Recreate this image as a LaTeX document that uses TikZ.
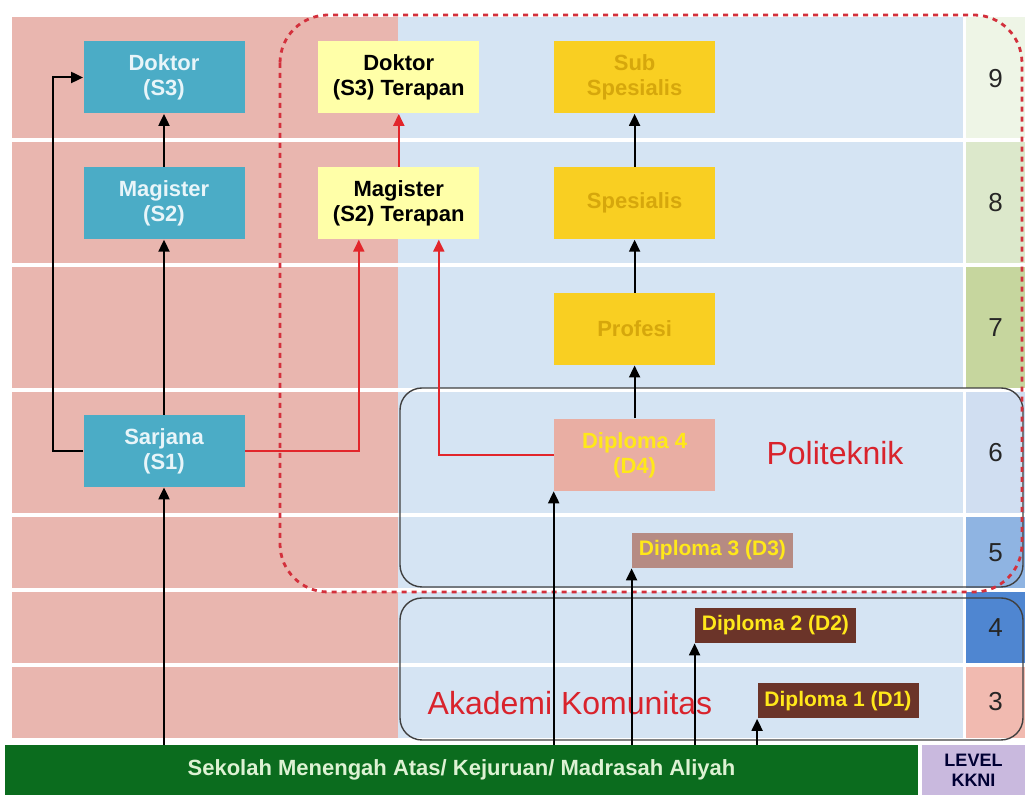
\documentclass[tikz,border=0pt]{standalone}
\usepackage{fontspec}
\setmainfont{Liberation Sans}
\usetikzlibrary{positioning,arrows.meta}
\definecolor{PinkBg}{HTML}{E9B6AF}
\definecolor{BlueBg}{HTML}{D5E4F3}
\definecolor{Teal}{HTML}{4BACC6}
\definecolor{TealText}{HTML}{E8F5F9}
\definecolor{PaleYellow}{HTML}{FFFFA8}
\definecolor{Gold}{HTML}{F9CF22}
\definecolor{GoldText}{HTML}{D6A70C}
\definecolor{DipYellow}{HTML}{FFE81A}
\definecolor{DFour}{HTML}{E9AEA3}
\definecolor{DThree}{HTML}{B68B83}
\definecolor{DLow}{HTML}{6B3429}
\definecolor{RedArr}{HTML}{E2262B}
\definecolor{RedDot}{HTML}{D3303C}
\definecolor{RedText}{HTML}{D9232C}
\definecolor{SmaGreen}{HTML}{0B6C1E}
\definecolor{SmaText}{HTML}{DDF2D3}
\definecolor{Lavender}{HTML}{C9B9DE}
\definecolor{LvNine}{HTML}{EEF5E6}
\definecolor{LvEight}{HTML}{DCE8CB}
\definecolor{LvSeven}{HTML}{C6D69E}
\definecolor{LvSix}{HTML}{D0DEF1}
\definecolor{LvFive}{HTML}{8FB4E2}
\definecolor{LvFour}{HTML}{4F86D1}
\definecolor{LvThree}{HTML}{F1BAB0}

\tikzset{
  box/.style={rectangle, minimum width=80.5pt, minimum height=36pt, inner sep=0pt,
    align=center, font=\bfseries\fontsize{11}{12.5}\selectfont},
  sbox/.style={box, fill=Teal, text=TealText},
  tbox/.style={box, fill=PaleYellow, text=black},
  gbox/.style={box, fill=Gold, text=GoldText},
  dbox/.style={rectangle, minimum width=80.5pt, minimum height=17.5pt, inner sep=0pt,
    font=\bfseries\fontsize{10.5}{12}\selectfont, text=DipYellow},
  lvl/.style={font=\fontsize{13}{15}\selectfont, text=black!85},
  grp/.style={draw=black!75, line width=0.7pt, rounded corners=11pt},
  dotframe/.style={draw=RedDot, line width=1.4pt, dash pattern=on 2.5pt off 2.5pt, rounded corners=24pt},
  up/.style={-{Triangle[length=6pt,width=5.5pt]}, line width=1pt},
  redup/.style={up, draw=RedArr, -{Triangle[length=6pt,width=5.5pt,fill=RedArr]}},
}

\begin{document}
\begin{tikzpicture}[x=0.5pt, y=-0.5pt, node distance=26.5pt]
  \useasboundingbox (0,0) rectangle (1025,795);

  % bands and levels
  \fill[PinkBg] (12,17) rectangle (398,738);
  \fill[BlueBg] (398,17) rectangle (963,738);
  \foreach \lv/\ya/\yb/\col in {9/17/140/LvNine, 8/140/265/LvEight, 7/265/390/LvSeven,
      6/390/515/LvSix, 5/515/590/LvFive, 4/590/665/LvFour, 3/665/738/LvThree}{
    \fill[\col] (966,\ya) rectangle (1025,\yb);
    \node[lvl] (lv\lv) at (995.5,{(\ya+\yb)/2}) {\lv};
  }
  \foreach \y in {140,265,390,515,590,665}
    \draw[white, line width=2pt] (12,\y) -- (1025,\y);

  % groups
  \draw[grp] (400,388) rectangle (1023,587);
  \draw[grp] (400,598) rectangle (1023,740);
  \draw[dotframe] (280,15) rectangle (1022,592);
  \node[font=\fontsize{16}{18}\selectfont, text=RedText] (politeknik) at (835,453) {Politeknik};
  \node[font=\fontsize{16}{18}\selectfont, text=RedText] (akademi) at (570,703) {Akademi Komunitas};

  % bottom bar
  \node[fill=SmaGreen, text=SmaText, minimum width=456.5pt, minimum height=25pt, inner sep=0pt,
    font=\bfseries\fontsize{11}{13}\selectfont] (sma) at (461.5,770)
    {Sekolah Menengah Atas/ Kejuruan/ Madrasah Aliyah};
  \node[fill=Lavender, text=black!80!blue, minimum width=51.5pt, minimum height=25pt, inner sep=0pt,
    align=center, font=\bfseries\fontsize{9}{10}\selectfont] (kkni) at (973.5,770) {LEVEL\\KKNI};

  % academic boxes
  \node[sbox] (doktor) at (164,77.5) {Doktor\\(S3)};
  \node[sbox, below=of doktor] (magister) {Magister\\(S2)};
  \node[sbox] (sarjana) at (164,451) {Sarjana\\(S1)};

  % applied boxes
  \node[tbox, right=36.5pt of doktor] (dokT) {Doktor\\(S3) Terapan};
  \node[tbox, below=of dokT] (magT) {Magister\\(S2) Terapan};

  % profession boxes
  \node[gbox, right=37pt of dokT] (subsp) {Sub\\Spesialis};
  \node[gbox, below=of subsp] (spes) {Spesialis};
  \node[gbox, below=of spes] (profesi) {Profesi};

  % diploma boxes
  \node[box, fill=DFour, text=DipYellow, below=of profesi] (d4) {Diploma 4\\(D4)};
  \node[dbox, fill=DThree] (d3) at (712.5,550.5) {Diploma 3 (D3)};
  \node[dbox, fill=DLow] (d2) at (775.5,625.5) {Diploma 2 (D2)};
  \node[dbox, fill=DLow] (d1) at (838,701) {Diploma 1 (D1)};

  % edges
  \draw[up] (sarjana |- sma.north) -- (sarjana);
  \draw[up] (sarjana) -- (magister);
  \draw[up] (magister) -- (doktor);
  \draw[up] (sarjana.west) -- ++(-30,0) |- (doktor.west);
  \draw[redup] (sarjana.east) -| ([xshift=-20pt]magT.south);
  \draw[redup] (d4.west) -| ([xshift=20pt]magT.south);
  \draw[redup] (magT) -- (dokT);
  \draw[up] (d4) -- (profesi);
  \draw[up] (profesi) -- (spes);
  \draw[up] (spes) -- (subsp);
  \draw[up] (d4.south west |- sma.north) -- (d4.south west);
  \draw[up] (d3.south west |- sma.north) -- (d3.south west);
  \draw[up] (d2.south west |- sma.north) -- (d2.south west);
  \draw[up] (d1.south west |- sma.north) -- (d1.south west);
\end{tikzpicture}
\end{document}
